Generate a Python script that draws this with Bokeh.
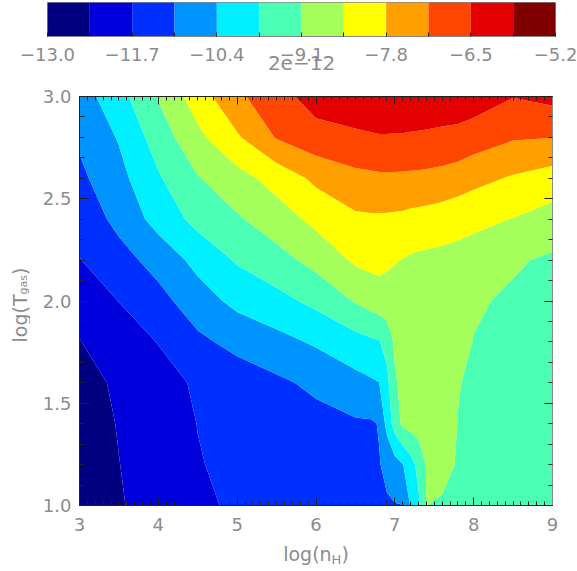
import math
import numpy as np
from bokeh.plotting import figure
from bokeh.layouts import row
from bokeh.models import FixedTicker, PrintfTickFormatter, LinearAxis, Range1d
from bokeh.core.properties import value
from bokeh.embed import file_html
from bokeh.resources import INLINE

# ---------------- data ----------------
log_nH = [3.0, 3.5, 4.0, 4.5, 5.0, 5.5, 6.0, 6.5, 6.7, 6.8, 6.9, 7.0, 7.1, 7.2, 7.3, 7.4, 7.5, 7.6, 7.8, 8.0, 8.5, 9.0]
log_T = [1.0, 1.2, 1.4, 1.6, 1.8, 2.0, 2.2, 2.4, 2.6, 2.8, 3.0]

z_T10 = [-12.71, -12.40, -12.10, -11.80, -11.62, -11.48, -11.35, -11.21, -11.16, -11.13, -11.11, -11.08, -11.06, -10.35, -9.89, -9.09, -9.13, -9.17, -9.23, -9.28, -9.36, -9.43]
z_T12 = [-12.67, -12.36, -12.04, -11.73, -11.57, -11.43, -11.28, -11.14, -11.09, -11.08, -10.92, -10.65, -10.43, -10.01, -9.55, -9.07, -8.91, -8.91, -9.15, -9.23, -9.33, -9.39]
z_T14 = [-12.64, -12.32, -12.00, -11.69, -11.55, -11.41, -11.27, -11.13, -11.12, -11.02, -10.19, -9.46, -8.97, -8.87, -8.81, -8.78, -8.78, -8.84, -9.11, -9.20, -9.30, -9.36]
z_T16 = [-12.58, -12.25, -11.92, -11.62, -11.40, -11.17, -10.91, -10.60, -10.48, -10.41, -9.93, -9.18, -8.94, -8.84, -8.78, -8.74, -8.74, -8.78, -9.08, -9.17, -9.26, -9.33]
z_T18 = [-12.37, -12.03, -11.68, -11.19, -10.86, -10.60, -10.32, -9.99, -9.85, -9.79, -9.52, -9.00, -8.87, -8.81, -8.74, -8.71, -8.71, -8.74, -8.87, -9.12, -9.23, -9.30]
z_T20 = [-12.13, -11.69, -11.27, -10.69, -10.23, -9.95, -9.59, -9.05, -8.84, -8.76, -8.71, -8.68, -8.66, -8.66, -8.68, -8.70, -8.71, -8.74, -8.81, -9.02, -9.20, -9.26]
z_T22 = [-11.72, -11.30, -10.80, -10.21, -9.68, -9.33, -8.89, -8.35, -8.27, -8.26, -8.35, -8.42, -8.47, -8.53, -8.57, -8.59, -8.61, -8.63, -8.66, -8.71, -9.02, -9.20]
z_T24 = [-11.49, -10.86, -10.17, -9.55, -9.18, -8.76, -8.28, -7.92, -7.89, -7.89, -7.90, -7.92, -7.94, -7.99, -8.01, -8.05, -8.08, -8.12, -8.22, -8.31, -8.47, -8.71]
z_T26 = [-11.19, -10.60, -9.82, -9.14, -8.68, -8.21, -7.66, -7.33, -7.29, -7.26, -7.26, -7.26, -7.27, -7.28, -7.29, -7.31, -7.34, -7.37, -7.46, -7.60, -7.87, -8.09]
z_T28 = [-10.95, -10.35, -9.45, -8.61, -7.88, -7.11, -6.73, -6.61, -6.56, -6.54, -6.54, -6.55, -6.55, -6.57, -6.58, -6.60, -6.62, -6.64, -6.69, -6.83, -7.09, -7.14]
z_T30 = [-10.71, -9.98, -9.06, -8.11, -7.28, -6.73, -6.24, -6.11, -6.08, -6.06, -6.06, -6.06, -6.06, -6.07, -6.08, -6.08, -6.10, -6.11, -6.11, -6.14, -6.48, -6.31]

levels = [-13.0, -12.35, -11.7, -11.05, -10.4, -9.75, -9.1, -8.45, -7.8, -7.15, -6.5, -5.85, -5.2]
colors = ["#000080", "#0000DC", "#0030FF", "#0094FF", "#00F0FF", "#4AFFB4",
          "#A4FF5A", "#FFFF00", "#FFA000", "#FF4600", "#E40000", "#800000"]
cbar_label_levels = [-13.0, -11.7, -10.4, -9.1, -7.8, -6.5, -5.2]
cbar_label_texts = ["\u221213.0", "\u221211.7", "\u221210.4", "\u22129.1", "\u22127.8", "\u22126.5", "\u22125.2"]
cbar_title = "2e\u221212"
x_ticks = [3, 4, 5, 6, 7, 8, 9]
y_ticks = [1.0, 1.5, 2.0, 2.5, 3.0]
x_title = ["log(n", "H", ")"]
y_title = ["log(T", "gas", ")"]

FONT = "DejaVu Sans"
TXT = "#8c8c8c"
TICK = "#222222"

z = np.array([z_T10, z_T12, z_T14, z_T16, z_T18, z_T20, z_T22, z_T24, z_T26, z_T28, z_T30])

# ---------------- colour bar (own root) ----------------
CB_H = 85
cb = figure(width=577, height=CB_H, x_range=Range1d(levels[0], levels[-1]), y_range=Range1d(0, 1),
            output_backend="svg", toolbar_location=None,
            min_border_left=47, min_border_right=22, min_border_top=2, min_border_bottom=CB_H - 36)
cb.quad(left=levels[:-1], right=levels[1:], bottom=0, top=1, fill_color=colors, line_color=None)
cb.yaxis.visible = False
cb.grid.visible = False
cb.outline_line_color = "#888888"
ax = cb.xaxis[0]
ax.ticker = FixedTicker(ticks=levels)
overrides = {lv: "" for lv in levels}
for lv, t in zip(cbar_label_levels, cbar_label_texts):
    overrides[lv] = t
ax.major_label_overrides = overrides
ax.major_tick_in = 4
ax.major_tick_out = 0
ax.minor_tick_in = 0
ax.minor_tick_out = 0
ax.major_tick_line_color = TICK
ax.axis_line_color = "#888888"
ax.major_label_standoff = 11
ax.major_label_text_font = FONT
ax.major_label_text_font_size = "18px"
ax.major_label_text_color = TXT
ax.axis_label = cbar_title
ax.axis_label_text_font = FONT
ax.axis_label_text_font_size = "20px"
ax.axis_label_text_font_style = "normal"
ax.axis_label_text_color = TXT
ax.axis_label_standoff = -8

# ---------------- main contour plot ----------------
P_H = 537 - CB_H
P_TOP = 96 - CB_H
p = figure(width=547, height=P_H, x_range=Range1d(3, 9), y_range=Range1d(1, 3),
           output_backend="svg", toolbar_location=None,
           min_border_left=49, min_border_right=25, min_border_top=P_TOP, min_border_bottom=32)
p.contour(log_nH, log_T, z, levels, fill_color=colors)
p.grid.visible = False
p.outline_line_color = None

x_minor = [round(v, 2) for v in np.arange(3.0, 9.0001, 0.1)]
y_minor = [round(v, 2) for v in np.arange(1.0, 3.0001, 0.1)]

def style_axis(a, tin, mtin, labels=True, line_color=TICK, standoff=8):
    a.major_tick_in = tin
    a.major_tick_out = 0
    a.minor_tick_in = mtin
    a.minor_tick_out = 0
    a.major_tick_line_color = TICK
    a.minor_tick_line_color = TICK
    a.axis_line_color = line_color
    a.major_label_text_font = FONT
    a.major_label_text_color = TXT
    if labels:
        a.major_label_text_font_size = "18px"
        a.major_label_standoff = standoff
    else:
        a.major_label_text_font_size = "0px"
        a.major_label_standoff = 0

xb = p.xaxis[0]
xb.ticker = FixedTicker(ticks=x_ticks, minor_ticks=x_minor)
xb.formatter = PrintfTickFormatter(format="%d")
style_axis(xb, 8, 4, standoff=12)

yl = p.yaxis[0]
yl.ticker = FixedTicker(ticks=y_ticks, minor_ticks=y_minor)
yl.formatter = PrintfTickFormatter(format="%.1f")
style_axis(yl, 10, 5, standoff=8)

top = LinearAxis(ticker=FixedTicker(ticks=x_ticks, minor_ticks=x_minor),
                 major_label_overrides={t: "" for t in x_ticks})
style_axis(top, 8, 4, labels=False)
p.add_layout(top, "above")

right = LinearAxis(ticker=FixedTicker(ticks=y_ticks, minor_ticks=y_minor),
                   major_label_overrides={t: "" for t in y_ticks})
style_axis(right, 8, 4, labels=False, line_color="#8c8c8c")
p.add_layout(right, "right")

# ---------------- y-axis title (own small figure, left of the plot) ----------------
yt = figure(width=30, height=P_H, x_range=Range1d(0, 30), y_range=Range1d(0, 409),
            output_backend="svg", toolbar_location=None,
            x_axis_location=None, y_axis_location=None,
            min_border_left=0, min_border_right=0, min_border_top=P_TOP, min_border_bottom=32)
yt.grid.visible = False
yt.outline_line_color = None
ang = math.pi / 2
yt.text(x=[19], y=[163], text=[y_title[0]], angle=ang, text_font=value(FONT), text_font_size="19px",
        text_color=TXT, text_align="left", text_baseline="alphabetic")
yt.text(x=[23], y=[211], text=[y_title[1]], angle=ang, text_font=value(FONT), text_font_size="11px",
        text_color=TXT, text_align="left", text_baseline="alphabetic")
yt.text(x=[19], y=[230.5], text=[y_title[2]], angle=ang, text_font=value(FONT), text_font_size="19px",
        text_color=TXT, text_align="left", text_baseline="alphabetic")

# ---------------- x-axis title (own root below) ----------------
xt = figure(width=577, height=34, x_range=Range1d(0, 577), y_range=Range1d(0, 34),
            output_backend="svg", toolbar_location=None,
            x_axis_location=None, y_axis_location=None,
            min_border_left=0, min_border_right=0, min_border_top=0, min_border_bottom=0)
xt.grid.visible = False
xt.outline_line_color = None
xt.text(x=[282.7], y=[18], text=[x_title[0]], text_font=value(FONT), text_font_size="19px",
        text_color=TXT, text_align="left", text_baseline="alphabetic")
xt.text(x=[331.1], y=[12], text=[x_title[1]], text_font=value(FONT), text_font_size="13px",
        text_color=TXT, text_align="left", text_baseline="alphabetic")
xt.text(x=[341.0], y=[18], text=[x_title[2]], text_font=value(FONT), text_font_size="19px",
        text_color=TXT, text_align="left", text_baseline="alphabetic")

open("out.html", "w").write(file_html([cb, row(yt, p), xt], INLINE))
